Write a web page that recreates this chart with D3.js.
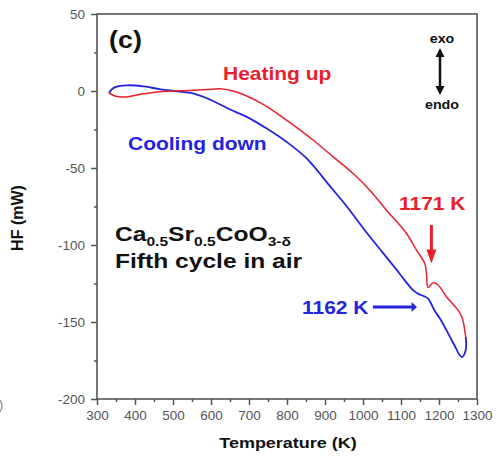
<!DOCTYPE html>
<html>
<head>
<meta charset="utf-8">
<script src="https://cdn.jsdelivr.net/npm/d3@7"></script>
<style>
  body { margin: 0; background: #fff; }
  svg { display: block; }
  text { font-family: "Liberation Sans", Arial, sans-serif; }
</style>
</head>
<body>
<div id="chart"></div>
<script>
// axis ticks
const tempTicks = [300, 400, 500, 600, 700, 800, 900, 1000, 1100, 1200, 1300];
const tempMinor = [350, 450, 550, 650, 750, 850, 950, 1050, 1150, 1250];
const hfTicks = [50, 0, -50, -100, -150, -200];
const hfMinor = [25, -25, -75, -125, -175];

// heating up (red)
const heatT  = [331.5, 349, 371, 415, 458, 502, 545, 590, 624, 655.5, 689.6, 729, 755.3, 807.9, 869.1, 921.7, 974.2, 1018, 1061.9, 1114.5, 1140.8, 1162.6, 1167, 1171.3, 1184.4, 1197.5, 1219.6, 1250, 1261.6, 1267.7, 1270.3];
const heatHF = [-1.3, -3.4, -3.9, -2.1, -0.6, 0, 0.3, 0.9, 1.5, 0.2, -2.8, -7.6, -11.4, -20.6, -32, -42.8, -53.6, -64.4, -77.4, -92.5, -103.3, -112, -118.5, -127.5, -124.6, -126, -133.6, -142.3, -147.7, -155.3, -159.6];

// cooling down (blue)
const coolT  = [1270.3, 1270.3, 1259.8, 1238.8, 1219.6, 1202, 1188.9, 1178.4, 1171.3, 1160, 1146.8, 1131.8, 1107.4, 1088.2, 1053, 1000.5, 956.9, 913, 851.8, 799.2, 746.7, 694.1, 650.2, 598.5, 554.9, 511, 467.1, 423.5, 379.6, 344.7, 331.5];
const coolHF = [-159.6, -168.2, -172.8, -164.3, -155.3, -147.5, -142.9, -137.7, -134.8, -133.2, -131.9, -129.3, -122.2, -116, -105.3, -89.1, -74.8, -61.8, -43.8, -33.1, -24.4, -16.8, -12, -5.7, -1.7, -0.2, 1.1, 2.95, 3.7, 2.2, -1.3];

const width = 496, height = 460;
const RED = "#e8202a", BLUE = "#2424e0";
const SX = 1.2; // the source text is a bit wider than Arial

const svg = d3.select("#chart").append("svg")
  .attr("width", width)
  .attr("height", height);

const x = d3.scaleLinear().domain([300, 1300]).range([97, 477]);
const y = d3.scaleLinear().domain([-200, 50]).range([399, 14]);

// axes
svg.append("g").attr("transform", `translate(0,${y(-200)})`)
  .call(d3.axisBottom(x).tickValues(tempTicks).tickSize(6).tickPadding(5).tickFormat(d => String(d)));
svg.append("g").attr("transform", `translate(0,${y(-200)})`)
  .call(d3.axisBottom(x).tickValues(tempMinor).tickSize(3).tickFormat(""));
svg.append("g").attr("transform", `translate(${x(300)},0)`)
  .call(d3.axisLeft(y).tickValues(hfTicks).tickSize(6).tickPadding(6).tickFormat(d => String(d)));
svg.append("g").attr("transform", `translate(${x(300)},0)`)
  .call(d3.axisLeft(y).tickValues(hfMinor).tickSize(3).tickFormat(""));

svg.selectAll(".domain").remove();
svg.selectAll(".tick line").attr("stroke", "#555").attr("stroke-width", 1.5);
svg.selectAll(".tick text")
  .attr("fill", "#555")
  .attr("font-size", "13.5px")
  .style("font-family", "'Liberation Sans', Arial, sans-serif");

// frame
svg.append("rect")
  .attr("x", x(300)).attr("y", y(50))
  .attr("width", x(1300) - x(300)).attr("height", y(-200) - y(50))
  .attr("fill", "none").attr("stroke", "#555").attr("stroke-width", 1.6);

// curves
const line = d3.line()
  .x(d => x(d[0]))
  .y(d => y(d[1]))
  .curve(d3.curveCatmullRom.alpha(0.5));

svg.append("path")
  .datum(coolT.map((t, i) => [t, coolHF[i]]))
  .attr("d", line)
  .attr("fill", "none").attr("stroke", BLUE).attr("stroke-width", 1.8);

svg.append("path")
  .datum(heatT.map((t, i) => [t, heatHF[i]]))
  .attr("d", line)
  .attr("fill", "none").attr("stroke", RED).attr("stroke-width", 1.5);

// text helper, scaled a bit wide like the source
function label(px, py, str, o = {}) {
  return svg.append("text")
    .attr("transform", `translate(${px},${py}) scale(${o.sx || SX},1)`)
    .attr("font-size", (o.size || 17) + "px")
    .attr("font-weight", o.weight || "bold")
    .attr("fill", o.fill || "#111")
    .attr("text-anchor", o.anchor || "start")
    .text(str);
}

label(109, 48, "(c)", { size: 24, sx: 1.12 });
label(223, 80, "Heating up", { size: 17.5, fill: RED });
label(128, 150, "Cooling down", { size: 17.5, fill: BLUE });
label(399, 210, "1171 K", { size: 17.5, fill: RED });
label(302, 314, "1162 K", { size: 17.5, fill: BLUE });
label(115, 268, "Fifth cycle in air", { size: 20.5 });

const formula = label(115, 241, "", { size: 20.5 });
[["Ca", 0], ["0.5", 1], ["Sr", 0], ["0.5", 1], ["CoO", 0], ["3-δ", 1]].forEach(([s, sub], i, arr) => {
  const prevSub = i > 0 && arr[i - 1][1];
  formula.append("tspan")
    .attr("font-size", sub ? "13px" : null)
    .attr("dy", sub ? 5 : (prevSub ? -5 : 0))
    .text(s);
});

label(442, 43, "exo", { size: 13, anchor: "middle", sx: 1.1 });
label(442, 109, "endo", { size: 13, anchor: "middle", sx: 1.1 });

// axis titles
label(288, 448, "Temperature (K)", { size: 15, anchor: "middle" });
svg.append("text")
  .attr("transform", `translate(23,218) rotate(-90)`)
  .attr("font-size", "16px").attr("font-weight", "bold")
  .attr("fill", "#111").attr("text-anchor", "middle")
  .text("HF (mW)");

// sliver of the neighbouring panel at the left edge
svg.append("path")
  .attr("d", "M0,400 Q4,406 0,412")
  .attr("fill", "none").attr("stroke", "#888").attr("stroke-width", 1.3);

// annotation arrows
const ax = x(1180);
svg.append("line")
  .attr("x1", ax).attr("x2", ax).attr("y1", y(-87)).attr("y2", y(-104))
  .attr("stroke", RED).attr("stroke-width", 3);
svg.append("path")
  .attr("d", `M${ax - 5},${y(-103)} L${ax + 5},${y(-103)} L${ax},${y(-112)} Z`)
  .attr("fill", RED);

const by = y(-140.3);
svg.append("line")
  .attr("x1", x(1026)).attr("x2", x(1130)).attr("y1", by).attr("y2", by)
  .attr("stroke", BLUE).attr("stroke-width", 3);
svg.append("path")
  .attr("d", `M${x(1128)},${by - 5} L${x(1128)},${by + 5} L${x(1142)},${by} Z`)
  .attr("fill", BLUE);

// exo / endo double arrow
const ex = 440, eTop = 48, eBot = 95;
svg.append("line")
  .attr("x1", ex).attr("x2", ex).attr("y1", eTop + 6).attr("y2", eBot - 6)
  .attr("stroke", "#111").attr("stroke-width", 2.5);
svg.append("path")
  .attr("d", `M${ex - 4.5},${eTop + 9} L${ex + 4.5},${eTop + 9} L${ex},${eTop} Z M${ex - 4.5},${eBot - 9} L${ex + 4.5},${eBot - 9} L${ex},${eBot} Z`)
  .attr("fill", "#111");
</script>
</body>
</html>
